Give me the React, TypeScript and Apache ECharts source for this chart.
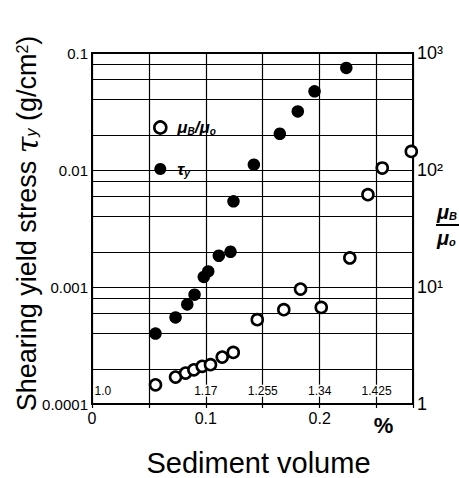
import { useEffect, useRef } from 'react';
import * as echarts from 'echarts';

// τy (left axis, g/cm²) vs sediment volume
const tauX = [0.0558, 0.0734, 0.0837, 0.0901, 0.0982, 0.1021, 0.1114, 0.1217, 0.1243, 0.1422, 0.165, 0.1808, 0.1955, 0.2234];
const tauY = [0.0004, 0.00055, 0.00071, 0.00086, 0.00122, 0.00136, 0.00185, 0.002, 0.0054, 0.0111, 0.0204, 0.0317, 0.047, 0.0745];
// μB/μo (right axis)
const ratioX = [0.0558, 0.0734, 0.0822, 0.0895, 0.0968, 0.1041, 0.1144, 0.1241, 0.1452, 0.1685, 0.1832, 0.2014, 0.2265, 0.2424, 0.255, 0.2805];
const ratioY = [1.46, 1.7, 1.84, 1.96, 2.1, 2.17, 2.52, 2.76, 5.26, 6.4, 9.6, 6.69, 17.7, 61.5, 104, 144];

// density labels along the bottom
const densityX = [0.0095, 0.1, 0.15, 0.2, 0.25];
const densityLabels = ['1.0', '1.17', '1.255', '1.34', '1.425'];
const densityLabelY = 0.00013;

const leftTickLabels = ['0.0001', '0.001', '0.01', '0.1'];
const rightTickLabels = ['1', '10¹', '10²', '10³'];
const xTickValues = [0, 0.1, 0.2, 0.25];
const xTickLabels = ['0', '0.1', '0.2', '{p|%}'];
const minorLineValues = [
  0.0002, 0.0004, 0.0006, 0.0008,
  0.002, 0.004, 0.006, 0.008,
  0.02, 0.04, 0.06, 0.08,
];
const X_MIN = 0;
const X_MAX = 0.282;

const FONT = 'Liberation Sans';

export default function App() {
  const ref = useRef<HTMLDivElement>(null);
  useEffect(() => {
    const chart = echarts.init(ref.current!, null, { renderer: 'svg' });
    const subRich = (size: number, sub: number) => ({
      m: { fontFamily: FONT, fontSize: size, fontStyle: 'italic', fontWeight: 'bold', color: '#000' },
      s: { fontFamily: FONT, fontSize: sub, fontStyle: 'italic', fontWeight: 'bold', color: '#000', padding: [8, 0, 0, 0] },
    });
    const option: any = {
      animation: false,
      backgroundColor: '#fff',
      textStyle: { fontFamily: FONT, color: '#000' },
      grid: {
        left: 92, right: 46, top: 53, bottom: 74,
        outerBoundsMode: 'none',
        containLabel: false,
        show: true, borderColor: '#000', borderWidth: 2, backgroundColor: 'transparent',
      },
      legend: {
        orient: 'vertical',
        left: 148,
        top: 114,
        itemGap: 24,
        itemWidth: 24,
        itemHeight: 12,
        icon: 'circle',
        data: [
          { name: 'μB/μo', itemStyle: { color: '#fff', borderColor: '#000', borderWidth: 2.6 } },
          { name: 'τy', itemStyle: { color: '#000', borderWidth: 0 } },
        ],
        formatter: (name: string) =>
          name === 'τy' ? '{m|τ}{s|y}' : '{m|μ}{s|B}{m|/μ}{s|o}',
        textStyle: { fontFamily: FONT, rich: subRich(17, 10) },
      },
      xAxis: {
        type: 'value',
        min: X_MIN,
        max: X_MAX,
        interval: 0.05,
        name: 'Sediment volume',
        nameLocation: 'middle',
        nameGap: 44,
        nameMoveOverlap: false,
        nameTextStyle: { fontFamily: FONT, fontSize: 29, color: '#000', padding: [0, 0, 0, 12] },
        axisLine: { show: true, lineStyle: { color: '#000', width: 2 } },
        axisTick: { show: true, length: 4, lineStyle: { color: '#000', width: 1.2 } },
        splitLine: { show: true, lineStyle: { color: '#000', width: 1.2 } },
        axisLabel: {
          margin: 6,
          fontFamily: FONT,
          fontSize: 16,
          color: '#000',
          formatter: (v: number) => {
            const i = xTickValues.findIndex((t) => Math.abs(t - v) < 1e-6);
            return i >= 0 ? xTickLabels[i] : '';
          },
          rich: { p: { fontFamily: FONT, fontSize: 22, fontWeight: 'bold', color: '#000', padding: [4, 0, 0, 14] } },
        },
      },
      yAxis: [
        {
          type: 'log',
          logBase: 10,
          min: 0.0001,
          max: 0.1,
          position: 'left',
          name: 'Shearing yield stress {t|τ}{ts|y} (g/cm{sup|2})',
          nameLocation: 'middle',
          nameRotate: 90,
          nameGap: 50,
          nameMoveOverlap: false,
          nameTextStyle: {
            fontFamily: FONT,
            fontSize: 27,
            color: '#000',
            padding: [0, 0, 0, 10],
            rich: {
              t: { fontFamily: 'DejaVu Serif', fontSize: 30, fontStyle: 'italic', color: '#000' },
              ts: { fontFamily: FONT, fontSize: 16, fontStyle: 'italic', color: '#000', padding: [8, 0, 0, 0] },
              sup: { fontFamily: FONT, fontSize: 16, color: '#000', padding: [0, 0, 10, 0] },
            },
          },
          axisLine: { show: true, lineStyle: { color: '#000', width: 2 } },
          axisTick: { show: false },
          splitLine: { show: true, lineStyle: { color: '#000', width: 1.2 } },
          axisLabel: {
            margin: 4,
            fontFamily: FONT,
            fontSize: 15,
            color: '#000',
            formatter: (v: number) => leftTickLabels[Math.round(Math.log10(v)) + 4] ?? '',
          },
        },
        {
          type: 'log',
          logBase: 10,
          min: 1,
          max: 1000,
          position: 'right',
          axisLine: { show: true, lineStyle: { color: '#000', width: 2 } },
          axisTick: { show: false },
          splitLine: { show: false },
          axisLabel: {
            margin: 4,
            fontFamily: FONT,
            fontSize: 18,
            color: '#000',
            formatter: (v: number) => rightTickLabels[Math.round(Math.log10(v))] ?? '',
          },
        },
      ],
      graphic: [
        {
          type: 'text',
          x: 437,
          y: 212,
          style: { text: '{m|μ}{s|B}', verticalAlign: 'middle', rich: subRich(20, 11) },
        },
        {
          type: 'line',
          shape: { x1: 436, y1: 225, x2: 459, y2: 225 },
          style: { stroke: '#000', lineWidth: 2 },
        },
        {
          type: 'text',
          x: 437,
          y: 238,
          style: { text: '{m|μ}{s|o}', verticalAlign: 'middle', rich: subRich(20, 11) },
        },
      ],
      series: [
        {
          name: 'gridlines',
          type: 'lines',
          coordinateSystem: 'cartesian2d',
          xAxisIndex: 0,
          yAxisIndex: 0,
          silent: true,
          polyline: false,
          lineStyle: { color: '#000', width: 1.2, opacity: 1, curveness: 0 },
          data: minorLineValues.map((v) => ({ coords: [[X_MIN, v], [X_MAX, v]] })),
          z: 1,
        },
        {
          name: 'density',
          type: 'scatter',
          yAxisIndex: 0,
          symbolSize: 0,
          silent: true,
          itemStyle: { color: '#000', opacity: 1 },
          data: densityX.map((x) => [x, densityLabelY]),
          label: {
            show: true,
            position: 'inside',
            fontFamily: FONT,
            fontSize: 12,
            color: '#000',
            opacity: 1,
            textBorderWidth: 0,
            textBorderColor: 'transparent',
            backgroundColor: '#fff',
            padding: [0, 1],
            formatter: (p: any) => densityLabels[p.dataIndex],
          },
          z: 3,
        },
        {
          name: 'μB/μo',
          type: 'scatter',
          yAxisIndex: 1,
          clip: false,
          symbol: 'circle',
          symbolSize: 11,
          itemStyle: { color: '#fff', borderColor: '#000', borderWidth: 2.6, opacity: 1 },
          data: ratioX.map((x, i) => [x, ratioY[i]]),
          z: 5,
        },
        {
          name: 'τy',
          type: 'scatter',
          yAxisIndex: 0,
          clip: false,
          symbol: 'circle',
          symbolSize: 12.5,
          itemStyle: { color: '#000', opacity: 1 },
          data: tauX.map((x, i) => [x, tauY[i]]),
          z: 5,
        },
      ],
    };
    chart.setOption(option);
    return () => chart.dispose();
  }, []);
  return (
    <div
      ref={ref}
      style={{ position: 'absolute', left: 0, top: 0, width: 459, height: 478 }}
    />
  );
}
